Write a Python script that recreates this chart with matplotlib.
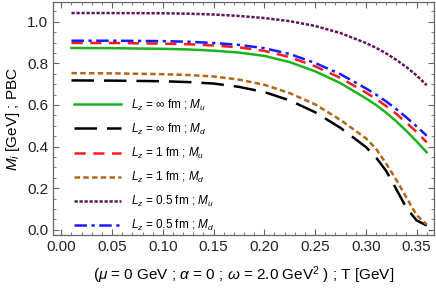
import matplotlib
matplotlib.use('Agg')
import matplotlib.pyplot as plt
import numpy as np
from matplotlib.ticker import MultipleLocator

plt.rcParams['font.family'] = ['Liberation Sans', 'DejaVu Sans']
plt.rcParams['mathtext.fontset'] = 'custom'
plt.rcParams['mathtext.rm'] = 'Liberation Sans'
plt.rcParams['mathtext.it'] = 'Liberation Sans:italic'

# temperature grid (GeV) and masses
T = [0.01, 0.05, 0.10, 0.125, 0.15, 0.175, 0.20, 0.225, 0.25, 0.275,
     0.30, 0.31, 0.32, 0.33, 0.34, 0.35, 0.36]
mu_inf = [0.874, 0.873, 0.870, 0.867, 0.861, 0.852, 0.836, 0.806, 0.762, 0.705,
          0.632, 0.600, 0.563, 0.521, 0.475, 0.425, 0.372]
md_inf = [0.718, 0.717, 0.714, 0.710, 0.703, 0.687, 0.662, 0.622, 0.565, 0.490,
          0.398, 0.348, 0.283, 0.195, 0.105, 0.045, 0.020]
mu_1fm = [0.898, 0.898, 0.895, 0.892, 0.886, 0.877, 0.860, 0.830, 0.786, 0.730,
          0.660, 0.629, 0.595, 0.557, 0.515, 0.470, 0.420]
md_1fm = [0.753, 0.752, 0.748, 0.744, 0.737, 0.722, 0.697, 0.657, 0.603, 0.528,
          0.440, 0.390, 0.318, 0.240, 0.155, 0.070, 0.025]
mu_05fm = [1.042, 1.042, 1.041, 1.039, 1.035, 1.028, 1.018, 1.003, 0.980, 0.946,
           0.898, 0.875, 0.848, 0.817, 0.782, 0.742, 0.695]
md_05fm = [0.909, 0.909, 0.907, 0.904, 0.898, 0.889, 0.873, 0.845, 0.802, 0.748,
           0.680, 0.650, 0.617, 0.580, 0.540, 0.497, 0.452]

labels = [r'$L_z$ = ∞ fm ; $M_u$', r'$L_z$ = ∞ fm ; $M_d$',
          r'$L_z$ = 1 fm ; $M_u$', r'$L_z$ = 1 fm ; $M_d$',
          r'$L_z$ = 0.5 fm ; $M_u$', r'$L_z$ = 0.5 fm ; $M_d$']

fig = plt.figure(figsize=(4.36, 2.90), dpi=100)
ax = fig.add_axes([0.122, 0.19, 0.873, 0.803])

lw = 1.8
ax.plot(T, mu_inf, color='#1db31d', lw=lw, label=labels[0])
ax.plot(T, md_inf, color='black', lw=lw, dashes=(9, 4), label=labels[1])
ax.plot(T, mu_1fm, color='#ff1a1a', lw=lw, dashes=(4.5, 3), label=labels[2])
ax.plot(T, md_1fm, color='#b3651a', lw=lw, dashes=(2.2, 1.3), label=labels[3])
ax.plot(T, mu_05fm, color='#5e145e', lw=lw, dashes=(1.3, 0.7), label=labels[4])
ax.plot(T, md_05fm, color='#1a1aff', lw=lw, dashes=(5, 1.8, 1.3, 1.8), label=labels[5])

ax.set_xlim(-0.008, 0.367)
ax.set_ylim(-0.025, 1.095)
ax.xaxis.set_major_locator(MultipleLocator(0.05))
ax.xaxis.set_minor_locator(MultipleLocator(0.01))
ax.yaxis.set_major_locator(MultipleLocator(0.2))
ax.yaxis.set_minor_locator(MultipleLocator(0.05))
ax.xaxis.set_major_formatter(plt.FormatStrFormatter('%.2f'))
ax.yaxis.set_major_formatter(plt.FormatStrFormatter('%.1f'))
ax.tick_params(which='both', direction='in', top=True, right=True, color='#666666',
               labelsize=11, labelcolor='#222222')
ax.tick_params(which='major', length=4, width=0.8)
ax.tick_params(which='minor', length=2, width=0.6)
for s in ax.spines.values():
    s.set_color('#666666')
    s.set_linewidth(0.9)

ax.set_ylabel(r'$M_i$ [GeV] ; PBC', fontsize=11, labelpad=4)
ax.set_xlabel(r'($\mu$ = 0 GeV ; $\alpha$ = 0 ; $\omega$ = 2.0 GeV$^2$ ) ; T [GeV]',
              fontsize=11, labelpad=8)

ax.legend(loc='upper left', bbox_to_anchor=(0.055, 0.59), frameon=False,
          fontsize=8.5, handlelength=4.0, handletextpad=0.8, labelspacing=0.76,
          borderaxespad=0, borderpad=0)

fig.savefig('out.png', dpi=100)
